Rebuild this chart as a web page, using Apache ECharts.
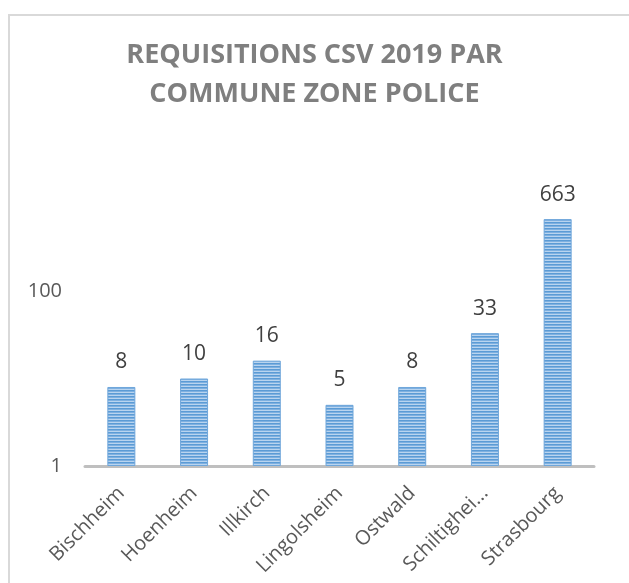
<!DOCTYPE html>
<html>
<head>
<meta charset="utf-8">
<script src="https://cdn.jsdelivr.net/npm/echarts@6/dist/echarts.min.js"></script>
<style>
    html, body { margin: 0; padding: 0; background: #fff; }
    #chartDiv { width: 629px; height: 583px; }
</style>
</head>
<body>
<div id="chartDiv"></div>
<script>
// données
var communes = ['Bischheim', 'Hoenheim', 'Illkirch', 'Lingolsheim', 'Ostwald', 'Schiltigheim', 'Strasbourg'];
var requisitions = [8, 10, 16, 5, 8, 33, 663];
var yTicks = [1, 100];

/**
 * motif rayé horizontal des barres (remplissage Excel)
 */
function stripePattern() {
    var c = document.createElement('canvas');
    c.width = 4;
    c.height = 3;
    var ctx = c.getContext('2d');
    ctx.fillStyle = '#5b9bd5';
    ctx.fillRect(0, 0, 4, 1);
    ctx.fillStyle = '#7eb0e0';
    ctx.fillRect(0, 1, 4, 1);
    ctx.fillStyle = '#b9d4ef';
    ctx.fillRect(0, 2, 4, 1);
    return c;
}

var myChart = echarts.init(document.getElementById('chartDiv'));

var option = {
    backgroundColor: '#ffffff',
    animation: false,
    title: {
        text: 'REQUISITIONS CSV 2019 PAR\nCOMMUNE ZONE POLICE',
        left: 'center',
        top: 31,
        textStyle: {
            fontFamily: 'Open Sans',
            fontWeight: 'bold',
            fontSize: 27,
            lineHeight: 39,
            color: '#7f7f7f'
        }
    },
    graphic: [{
        type: 'rect',
        shape: { x: 9, y: 15, width: 700, height: 700 },
        style: { fill: 'none', stroke: '#d9d9d9', lineWidth: 2 },
        silent: true
    }],
    grid: {
        left: 85,
        right: 35,
        top: 116,
        bottom: 117,
        containLabel: false
    },
    xAxis: {
        type: 'category',
        data: communes,
        axisLine: { lineStyle: { color: '#bfbfbf', width: 3 } },
        axisTick: { show: false },
        axisLabel: {
            rotate: 45,
            interval: 0,
            margin: 24,
            fontFamily: 'Open Sans',
            fontSize: 20,
            color: '#595959',
            formatter: function (v) {
                return v.length > 11 ? v.slice(0, 11) + '...' : v;
            }
        }
    },
    yAxis: {
        type: 'log',
        logBase: 100,
        min: 1,
        max: 10000,
        interval: 1,
        axisLine: { show: false },
        axisTick: { show: false },
        splitLine: { show: false },
        axisLabel: {
            margin: 23,
            fontFamily: 'Open Sans',
            fontSize: 20,
            color: '#595959',
            formatter: function (v) {
                return yTicks.indexOf(v) >= 0 ? String(v) : '';
            }
        }
    },
    series: [{
        name: 'Réquisitions',
        type: 'bar',
        data: requisitions,
        barWidth: 28,
        itemStyle: {
            color: { image: stripePattern(), repeat: 'repeat' },
            borderColor: '#6fa6da',
            borderWidth: 1
        },
        label: {
            show: true,
            position: 'top',
            distance: 14,
            fontFamily: 'Open Sans',
            fontSize: 21,
            color: '#404040'
        }
    }]
};

myChart.setOption(option);
</script>
</body>
</html>
